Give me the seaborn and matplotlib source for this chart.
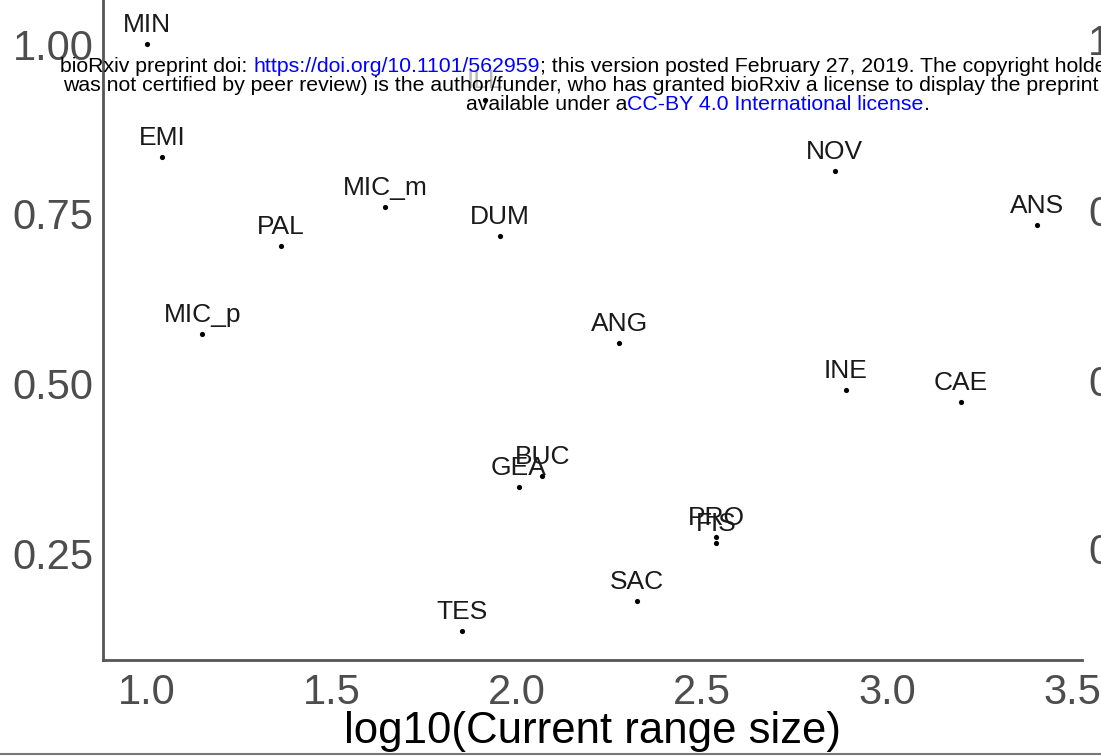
import numpy as np
import pandas as pd
import matplotlib
matplotlib.use("Agg")
import matplotlib.pyplot as plt
from matplotlib.lines import Line2D
import seaborn as sns

sns.set_style("white")
plt.rcParams['font.family'] = ['Liberation Sans', 'DejaVu Sans']

# data
codes = ["MIN", "ILL", "EMI", "MIC_m", "PAL", "DUM", "NOV", "ANS", "MIC_p",
         "ANG", "INE", "CAE", "GEA", "BUC", "PRO", "FIS", "SAC", "TES"]
log_range = [1.00, 1.914, 1.041, 1.643, 1.362, 1.954, 2.859, 3.405, 1.149,
             2.276, 2.889, 3.200, 2.005, 2.068, 2.538, 2.538, 2.324, 1.851]
yval = [1.000, 0.917, 0.834, 0.760, 0.702, 0.717, 0.813, 0.733, 0.573,
        0.559, 0.490, 0.473, 0.347, 0.363, 0.274, 0.265, 0.179, 0.135]
x_ticks = [1.0, 1.5, 2.0, 2.5, 3.0, 3.5]
y_ticks = [0.25, 0.50, 0.75, 1.00]

df = pd.DataFrame({"code": codes, "x": log_range, "y": yval})

W, H = 1101, 756
fig = plt.figure(figsize=(W / 100, H / 100), dpi=100)
ax = fig.add_axes([103 / W, 1 - 660 / H, (1082 - 103) / W, 660 / H])

sns.scatterplot(data=df, x="x", y="y", ax=ax, color="black", s=14,
                linewidth=0, legend=False)

for _, r in df.iterrows():
    a = 0.3 if r["code"] == "ILL" else 1.0
    ax.annotate(r["code"], (r["x"], r["y"]), xytext=(0, 5),
                textcoords="offset points", ha="center", va="bottom",
                fontsize=19, color="#1a1a1a", alpha=a)

ax.set_xlim(0.881, 3.527)
ax.set_ylim(0.0924, 1.065)
ax.set_xticks(x_ticks)
ax.set_xticklabels([f"{v:.1f}" for v in x_ticks])
ax.set_yticks(y_ticks)
ax.set_yticklabels([f"{v:.2f}" for v in y_ticks])
ax.tick_params(axis="both", labelsize=30, labelcolor="#4d4d4d",
               color="#4d4d4d", length=4, width=1.2, direction="out")
ax.tick_params(axis="x", pad=5)
ax.tick_params(axis="y", pad=3)
ax.set_xlabel("log10(Current range size)", fontsize=31.5, color="black",
              labelpad=-1)
ax.set_ylabel("")
for s in ["top", "right"]:
    ax.spines[s].set_visible(False)
for s in ["left", "bottom"]:
    ax.spines[s].set_color("#555555")
    ax.spines[s].set_linewidth(2)

# partial tick labels of the neighbouring panel
for lab, py in zip(["1.00", "0.75", "0.50", "0.25"], [44, 215, 385, 553]):
    fig.text(1088 / W, 1 - py / H, lab, fontsize=30, color="#4d4d4d",
             ha="left", va="center")

# bioRxiv watermark
fig.canvas.draw()
rend = fig.canvas.get_renderer()


def seg_line(x0, base_y, parts):
    x = x0
    for txt, col in parts:
        t = fig.text(x / W, 1 - base_y / H, txt, fontsize=15.3, color=col,
                     ha="left", va="baseline")
        bb = t.get_window_extent(renderer=rend)
        x = bb.x1


seg_line(60, 72, [("bioRxiv preprint doi: ", "black"),
                  ("https://doi.org/10.1101/562959", "blue"),
                  ("; this version posted February 27, 2019. The copyright holder for this preprint (which", "black")])
seg_line(63, 91, [("was not certified by peer review) is the author/funder, who has granted bioRxiv a license to display the preprint in perpetuity. It is made", "black")])
seg_line(466, 110, [("available under a", "black"),
                    ("CC-BY 4.0 International license", "blue"),
                    (".", "black")])

fig.add_artist(Line2D([0, 1], [1 - 754 / H, 1 - 754 / H],
                      transform=fig.transFigure, color="#777777", lw=1.5))

fig.savefig("out.png", dpi=100)
